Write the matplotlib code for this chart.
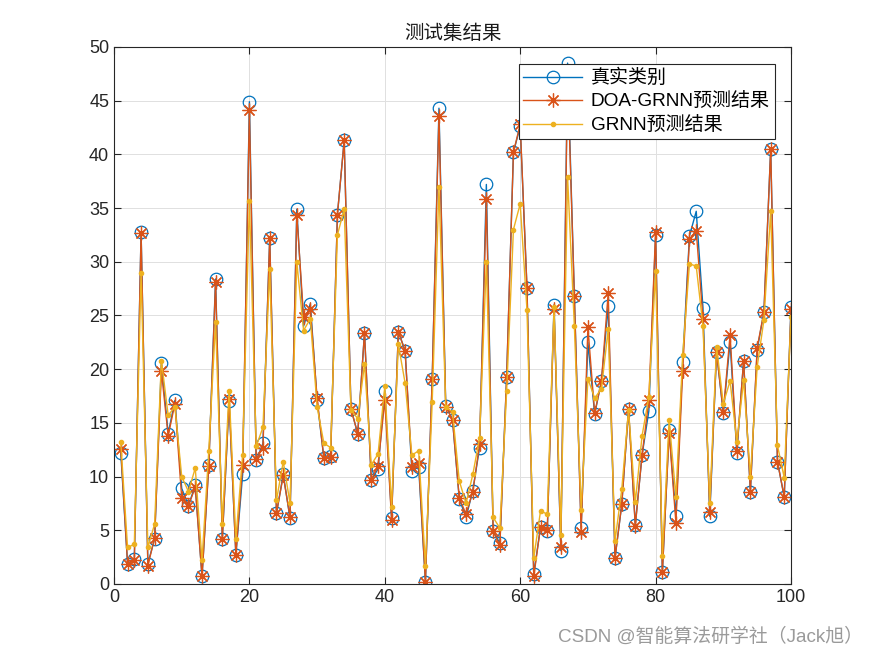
import numpy as np
import matplotlib
matplotlib.use("Agg")
import matplotlib.pyplot as plt

plt.rcParams['font.family'] = ['Liberation Sans', 'Noto Sans CJK SC', 'DejaVu Sans']

# test-set values
true_vals = [12.2, 1.9, 2.3, 32.8, 1.9, 4.2, 20.6, 14.0, 17.1, 8.9,
             7.3, 9.2, 0.7, 11.1, 28.4, 4.2, 17.0, 2.7, 10.2, 44.9,
             11.5, 13.1, 32.2, 6.6, 10.2, 6.1, 34.9, 24.0, 26.1, 17.1,
             11.7, 11.9, 34.4, 41.3, 16.3, 14.0, 23.4, 9.7, 10.7, 18.0,
             6.1, 23.5, 21.7, 10.5, 10.9, 0.2, 19.1, 44.3, 16.6, 15.3,
             7.9, 6.2, 8.7, 12.7, 37.2, 4.9, 3.8, 19.3, 40.2, 42.6,
             27.6, 0.9, 5.3, 4.9, 26.0, 3.1, 48.5, 26.8, 5.2, 22.5,
             15.8, 18.9, 25.9, 2.4, 7.4, 16.3, 5.5, 12.0, 16.1, 32.5,
             1.1, 14.3, 6.3, 20.7, 32.4, 34.7, 25.7, 6.3, 21.6, 15.9,
             22.5, 12.2, 20.8, 8.6, 21.8, 25.3, 40.5, 11.4, 8.1, 25.8]

doa_grnn = [12.6, 1.9, 2.2, 32.7, 1.7, 4.3, 19.8, 13.8, 16.8, 8.0,
            7.3, 9.0, 0.7, 11.0, 28.1, 4.2, 17.2, 2.7, 11.1, 44.1,
            11.6, 12.7, 32.2, 6.6, 10.1, 6.2, 34.4, 24.9, 25.6, 17.3,
            11.7, 11.8, 34.4, 41.3, 16.3, 14.0, 23.4, 9.7, 11.0, 17.1,
            6.0, 23.5, 21.7, 10.9, 11.3, 0.2, 19.1, 43.6, 16.5, 15.3,
            8.0, 6.5, 8.6, 13.0, 35.8, 4.9, 3.6, 19.3, 40.2, 42.8,
            27.6, 0.7, 5.3, 5.0, 25.6, 3.4, 47.5, 26.8, 4.8, 23.9,
            15.9, 18.9, 27.1, 2.4, 7.4, 16.3, 5.4, 12.0, 17.1, 32.8,
            1.1, 14.1, 5.7, 19.8, 32.1, 32.9, 24.7, 6.7, 21.6, 16.0,
            23.2, 12.4, 20.8, 8.6, 22.0, 25.3, 40.5, 11.4, 8.1, 25.6]

grnn = [13.2, 3.4, 3.7, 29.0, 3.4, 5.6, 20.8, 15.7, 16.5, 10.0,
        8.6, 10.8, 2.2, 12.4, 24.4, 5.6, 18.0, 4.2, 12.0, 35.7,
        12.8, 14.6, 29.3, 7.8, 11.4, 7.5, 30.0, 23.6, 24.7, 16.5,
        13.1, 12.7, 32.5, 34.9, 16.2, 15.4, 20.5, 11.1, 12.1, 18.4,
        7.2, 22.3, 18.7, 12.0, 12.4, 1.7, 16.9, 37.0, 16.5, 16.0,
        9.6, 7.5, 10.2, 13.6, 30.0, 6.2, 5.2, 18.0, 33.0, 35.4,
        25.5, 2.4, 6.8, 6.5, 25.8, 4.6, 37.9, 24.0, 6.9, 19.1,
        17.3, 18.2, 23.7, 4.0, 8.8, 16.2, 7.6, 13.8, 17.4, 29.1,
        2.6, 15.3, 8.1, 21.3, 29.8, 29.6, 24.0, 7.5, 22.1, 16.8,
        18.9, 13.2, 19.0, 10.0, 20.2, 24.6, 34.7, 12.9, 9.9, 24.9]

idx = np.arange(1, len(true_vals) + 1)

fig = plt.figure(figsize=(8.75, 6.56), dpi=100)
ax = fig.add_axes([0.1303, 0.1098, 0.7737, 0.8186])

ax.plot(idx, true_vals, '-o', color='#0072BD', lw=1.0, markersize=9,
        markerfacecolor='none', markeredgewidth=0.9, label='真实类别')
ax.plot(idx, doa_grnn, color='#D95319', lw=1.0, marker=(8, 2, 0), markersize=10,
        markeredgewidth=0.9, label='DOA-GRNN预测结果')
ax.plot(idx, grnn, color='#EDB120', lw=1.0, marker='.', markersize=6,
        label='GRNN预测结果')

ax.set_xlim(0, 100)
ax.set_ylim(0, 50)
ax.set_xticks(np.arange(0, 101, 20))
ax.set_yticks(np.arange(0, 51, 5))
ax.tick_params(direction='in', labelsize=13, length=5, width=0.8,
               top=True, right=True, colors='#262626')
ax.grid(True, color='#e0e0e0', linewidth=0.7)
ax.set_axisbelow(True)
for s in ax.spines.values():
    s.set_color('#262626')
    s.set_linewidth(0.8)

ax.set_title('测试集结果', fontsize=14, color='#1a1a1a', pad=6)

leg = ax.legend(loc='upper right', bbox_to_anchor=(0.976, 0.968), fontsize=13.7,
                fancybox=False, framealpha=1, edgecolor='#262626',
                handlelength=3.1, handletextpad=0.45, borderpad=0.25,
                labelspacing=0.3, borderaxespad=0)
leg.get_frame().set_linewidth(0.8)

fig.text(0.986, 0.016, 'CSDN @智能算法研学社（Jack旭）', ha='right', va='bottom',
         fontsize=13.6, color='#9a9a9a')

fig.savefig('out.png', dpi=100)
